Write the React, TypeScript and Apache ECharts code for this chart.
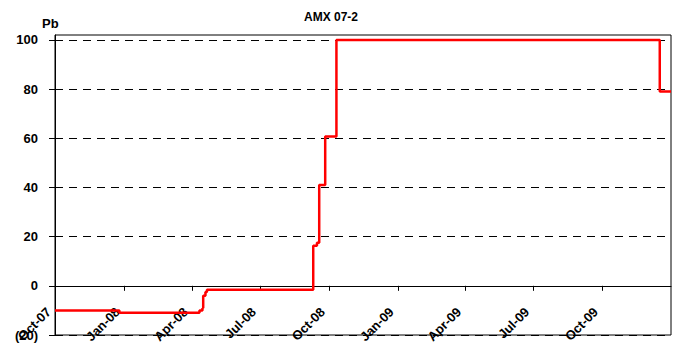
import React, { useEffect, useRef } from "react";
import * as echarts from "echarts";

const chartTitle = "AMX 07-2";
const yAxisTitle = "Pb";
const dates = [
  "2007-10-01", "2007-12-26", "2008-04-11", "2008-04-15", "2008-04-16", "2008-04-19",
  "2008-04-21", "2008-09-10", "2008-09-15", "2008-09-18", "2008-09-26", "2008-10-11",
  "2009-12-17", "2010-01-01",
];
const values = [-10, -11, -10, -9, -4, -2.5, -1.6, 16.3, 17.5, 41, 60.7, 100, 79, 79];
const quarterTicks = [
  "2007-10-01", "2008-01-01", "2008-04-01", "2008-07-01", "2008-10-01",
  "2009-01-01", "2009-04-01", "2009-07-01", "2009-10-01",
];
const yTicks = [-20, 0, 20, 40, 60, 80, 100];
const monthNames = ["Jan", "Feb", "Mar", "Apr", "May", "Jun", "Jul", "Aug", "Sep", "Oct", "Nov", "Dec"];

const FONT = "'Liberation Sans', Arial, sans-serif";
const toTime = (d: string) => Date.UTC(+d.slice(0, 4), +d.slice(5, 7) - 1, +d.slice(8, 10));

export default function App() {
  const ref = useRef<HTMLDivElement>(null);
  useEffect(() => {
    if (!ref.current) return;
    const chart = echarts.init(ref.current, null, { renderer: "svg" });
    const tickTimes = quarterTicks.map(toTime);
    const tsY = { min: -20, max: 102, interval: 20 };
    chart.setOption({
      animation: false,
      textStyle: { fontFamily: FONT },
      title: [
        { text: chartTitle, left: 299, top: 6, textStyle: { fontSize: 12, fontWeight: "bold", color: "#000", fontFamily: FONT } },
        { text: yAxisTitle, left: 37, top: 12, textStyle: { fontSize: 13, fontWeight: "bold", color: "#000", fontFamily: FONT } },
      ],
      grid: {
        left: 55, right: 9, top: 35, bottom: 12,
        containLabel: false, outerBoundsMode: "none",
        show: true, borderColor: "#000", borderWidth: 1, backgroundColor: "transparent",
      },
      xAxis: {
        type: "value",
        min: toTime("2007-10-01"),
        max: toTime("2010-01-01"),
        axisLine: { onZero: true, lineStyle: { color: "#000", width: 1 } },
        axisTick: { show: true, inside: false, length: 5, lineStyle: { color: "#000" }, customValues: tickTimes },
        axisLabel: {
          customValues: tickTimes,
          rotate: 45,
          margin: -19,
          verticalAlign: "bottom",
          lineHeight: 18,
          fontSize: 13,
          fontWeight: "bold",
          color: "#000",
          fontFamily: FONT,
          hideOverlap: false,
          showMinLabel: true,
          showMaxLabel: true,
          formatter: (v: number) => {
            const d = new Date(v);
            return monthNames[d.getUTCMonth()] + "-" + String(d.getUTCFullYear()).slice(2);
          },
        },
        splitLine: { show: false },
      },
      yAxis: [
        {
          type: "value",
          ...tsY,
          axisLine: { show: true, onZero: false, lineStyle: { color: "#000", width: 1 } },
          axisTick: { show: true, length: 6, lineStyle: { color: "#000" }, customValues: yTicks },
          axisLabel: {
            customValues: yTicks,
            margin: 17,
            fontSize: 13,
            fontWeight: "bold",
            color: "#000",
            fontFamily: FONT,
            formatter: (v: number) => (v < 0 ? `(${-v})` : v % 20 === 0 ? String(v) : ""),
          },
          splitLine: { show: true, lineStyle: { color: "#000", type: [8, 6], width: 1 } },
        },
        {
          type: "value",
          position: "left",
          ...tsY,
          axisLine: { show: false, onZero: false },
          axisTick: { show: true, inside: true, length: 7, lineStyle: { color: "#000" }, customValues: yTicks },
          axisLabel: { show: false },
          splitLine: { show: false },
        },
      ],
      series: [
        {
          type: "line",
          step: "end",
          showSymbol: false,
          data: dates.map((d, i) => [toTime(d), values[i]]),
          lineStyle: { color: "#FF0000", width: 2.5 },
          itemStyle: { color: "#FF0000" },
        },
      ],
    });
    return () => chart.dispose();
  }, []);
  return <div ref={ref} style={{ width: 680, height: 347, position: "absolute", left: 0, top: 0 }} />;
}
